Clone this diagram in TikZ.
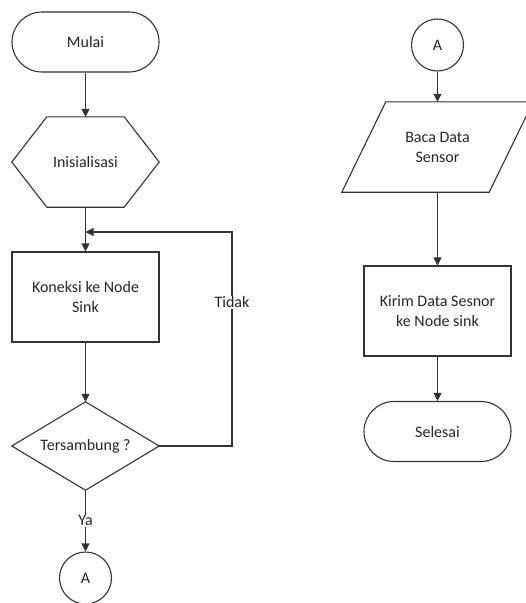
\documentclass[tikz,border=0pt]{standalone}
\usepackage{fontspec}
\setmainfont{Carlito}
\usetikzlibrary{arrows.meta,calc}
\begin{document}
\begin{tikzpicture}[x=1pt,y=-1pt,
  line/.style={draw=black!80, line width=1.1pt},
  arr/.style={line, -{Triangle[length=8pt,width=8pt]}},
  txt/.style={font=\fontsize{16}{20}\selectfont, text=black!85, align=center},
  term/.style={txt, line, rounded corners=30pt, minimum width=147pt, minimum height=60pt},
  proc/.style={txt, line, minimum width=147pt, minimum height=90pt},
  conn/.style={txt, line, circle, minimum size=52pt, inner sep=0pt},
  plain/.style={txt, minimum width=147pt, inner sep=0pt},
  lbl/.style={txt, fill=white, inner sep=1pt}]
\useasboundingbox (0,0) rectangle (526,603);
% left column
\node[term] (mulai) at (85.5,42) {Mulai};
\node[plain, minimum height=90pt] (init) at (85.5,162) {Inisialisasi};
\draw[line] (init.west) -- ($(init.north west)+(35,0)$) -- ($(init.north east)+(-35,0)$) -- (init.east) -- ($(init.south east)+(-35,0)$) -- ($(init.south west)+(35,0)$) -- cycle;
\node[proc] (kon) at (85.5,297) {Koneksi ke Node\\Sink};
\node[plain, minimum height=88pt] (dec) at (85.5,446) {Tersambung ?};
\draw[line] (dec.north) -- (dec.east) -- (dec.south) -- (dec.west) -- cycle;
\node[conn] (a1) at (85.5,578) {A};
% right column
\node[conn] (a2) at (437.5,45) {A};
\node[plain, minimum height=90pt] (baca) at (437.5,147) {Baca Data\\Sensor};
\draw[line] ($(baca.north west)+(22,0)$) -- ($(baca.north east)+(22,0)$) -- ($(baca.south east)+(-22,0)$) -- ($(baca.south west)+(-22,0)$) -- cycle;
\node[proc] (kirim) at (437.5,311) {Kirim Data Sesnor\\ke Node sink};
\node[term] (sel) at (437.5,431.5) {Selesai};
% connectors
\draw[arr] (mulai) -- (init);
\draw[arr] (init) -- (kon);
\draw[arr] (kon) -- (dec);
\draw[arr] (dec) -- node[lbl] {Ya} (a1);
\coordinate (lr) at (232,232);
\coordinate (li) at (85.5,232);
\draw[arr] (dec.east) -| node[lbl, pos=0.836] {Tidak} (lr) -- (li);
\draw[arr] (a2) -- (baca);
\draw[arr] (baca) -- (kirim);
\draw[arr] (kirim) -- (sel);
\end{tikzpicture}
\end{document}
